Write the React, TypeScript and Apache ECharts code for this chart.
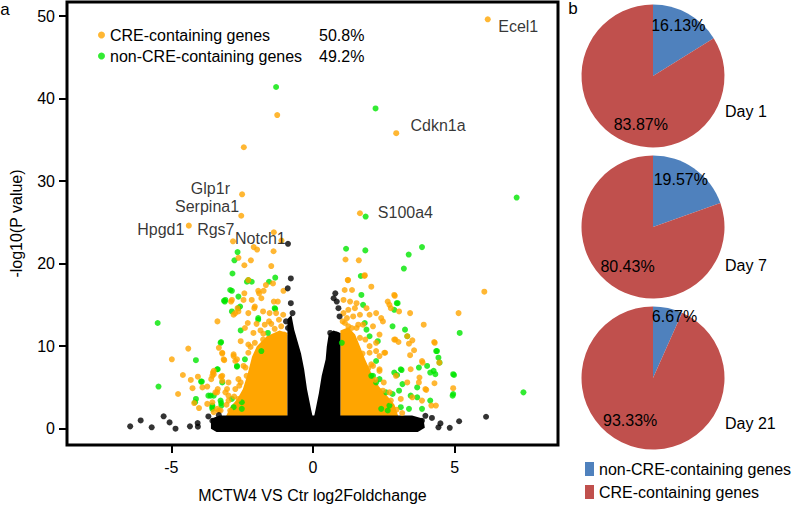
import React, { useEffect, useRef } from 'react';
import * as echarts from 'echarts';

const FONT = "'Liberation Sans', Arial, Helvetica, sans-serif";
const ORANGE = '#ffa500';
const GREEN = '#00e600';
const BLACK = '#000000';
const BLUE = '#4f81bd';
const RED = '#c0504d';

// ---- Volcano plot data: [log2FoldChange, -log10(P value)] ----
const creGenes: [number, number][] = [
  [-1.26, 38.0], [-2.44, 34.1], [-1.11, 22.8],
  [-2.09, 22.0], [-1.97, 21.7], [-1.39, 21.5], [-2.63, 20.7], [-2.42, 19.8], [-2.19, 20.4], [-1.47, 19.7],
  [-2.28, 18.0], [-1.66, 17.4], [-1.41, 17.6], [-1.04, 16.7], [-2.42, 16.4], [-1.90, 16.4], [-1.74, 16.7], [-1.93, 16.7],
  [-2.89, 15.4], [-2.16, 15.6], [-1.82, 15.8], [-1.38, 15.4], [-1.24, 15.4], [-2.45, 15.6], [-2.86, 15.6],
  [-2.66, 14.6], [-2.74, 14.0], [-2.07, 14.6], [-1.53, 14.0], [-2.28, 14.0], [-2.05, 14.8], [-1.76, 14.2], [-1.30, 14.0], [-2.63, 14.2], [-2.80, 13.8],
  [-3.37, 13.0], [-2.30, 12.8], [-2.40, 12.2], [-1.99, 12.7], [-1.70, 12.6], [-1.47, 12.7], [-1.12, 12.4], [-1.01, 11.4],
  [-4.40, 9.7], [-3.32, 9.8], [-4.98, 8.4], [-3.13, 8.3], [-2.80, 8.8], [-2.74, 8.2], [-3.20, 9.2], [-2.80, 9.0], [-2.28, 10.2],
  [-2.05, 10.4], [-2.28, 9.2], [-1.76, 10.8], [-3.20, 9.1], [-3.15, 8.4], [-2.68, 8.4],
  [-4.59, 6.5], [-4.31, 5.9], [-4.25, 4.9], [-4.06, 6.3], [-3.90, 5.0], [-3.73, 5.1], [-3.59, 6.0], [-3.50, 6.6], [-3.24, 6.3],
  [-3.20, 5.8], [-3.53, 6.8], [-2.98, 5.6], [-2.63, 6.0], [-2.34, 6.4], [-3.50, 7.0], [-3.55, 6.4], [-3.20, 6.4],
  [-4.76, 4.2], [-4.19, 3.1], [-4.02, 2.5], [-3.38, 4.4], [-3.03, 4.8], [-2.98, 4.0], [-3.38, 2.4], [-3.44, 4.4], [-3.09, 4.4],
  [-2.74, 4.8], [-3.73, 3.0], [-3.32, 2.2], [-2.98, 3.4], [-2.92, 2.2], [-2.63, 3.6], [-3.55, 3.2], [-3.50, 2.0], [-3.26, 2.2], [-3.36, 4.8],
  [-1.20, 13.2], [-1.05, 13.8], [-1.55, 13.0], [-2.10, 11.6], [-1.85, 11.9], [-2.55, 10.6], [-2.45, 7.6], [-2.60, 5.2],
  [-2.20, 9.9], [-2.38, 7.4], [-2.55, 5.6], [-2.78, 3.9], [-3.05, 2.9], [-1.75, 11.5], [-1.35, 12.1],
  [1.66, 26.1], [1.15, 20.5], [1.62, 20.4], [1.82, 18.5], [1.24, 18.0], [2.06, 17.2], [6.05, 16.6], [1.12, 16.8], [1.38, 16.8],
  [2.89, 16.1], [2.64, 15.4], [2.70, 15.0], [3.04, 14.2], [3.43, 14.0], [5.14, 14.0], [3.91, 12.6], [3.33, 11.2], [3.51, 10.7],
  [2.91, 10.8], [3.02, 10.5], [4.28, 10.5], [2.55, 9.2], [3.43, 8.9], [3.87, 8.0], [3.45, 7.2], [3.76, 6.2], [4.29, 5.5],
  [4.00, 4.7], [4.95, 4.9], [4.18, 2.8], [4.34, 2.8],
  [1.23, 18.0], [1.83, 18.6], [1.08, 15.6], [1.31, 15.4], [1.54, 15.2], [1.89, 14.6], [1.08, 14.0], [1.42, 13.6], [1.66, 13.8],
  [2.23, 14.0], [2.41, 13.4], [1.25, 12.4], [1.54, 12.2], [1.77, 12.6], [2.12, 12.4], [1.19, 11.2], [1.66, 11.0], [2.23, 10.4],
  [2.00, 9.2], [2.35, 8.8], [2.12, 7.6], [2.35, 7.2],
  [2.75, 14.6], [1.25, 14.4], [1.48, 14.6], [2.00, 13.8], [2.47, 13.0], [1.13, 12.8], [1.37, 12.2], [1.60, 12.6], [2.35, 11.4],
  [2.87, 10.8], [3.39, 10.3], [4.30, 10.4], [3.57, 9.5], [3.85, 8.2], [4.46, 8.0], [2.23, 9.4], [2.52, 9.2], [2.06, 7.8],
  [2.35, 7.0], [2.93, 6.4], [3.33, 5.6], [3.74, 5.6], [3.97, 4.8], [2.47, 4.6], [3.51, 3.8], [3.85, 3.4], [2.75, 3.4], [3.10, 3.6], [2.87, 16.2],
  [1.05, 13.0], [1.20, 13.4], [1.85, 10.8], [2.00, 10.0], [2.50, 5.6], [2.70, 4.4],
  [1.75, 9.1], [1.95, 7.3], [2.20, 5.9], [2.95, 2.3], [3.15, 1.9],
];

const nonCreGenes: [number, number][] = [
  [-1.30, 41.4], [2.21, 38.8], [7.19, 28.0], [7.43, 4.4],
  [-2.66, 21.4], [-2.77, 20.4], [-2.84, 18.8], [-1.33, 18.3], [-2.33, 17.8], [-2.86, 16.7], [-3.14, 15.5], [-2.63, 16.0],
  [-2.86, 14.2], [-1.33, 14.5], [-5.48, 12.8], [-1.93, 13.2], [-2.55, 11.9], [-3.24, 10.5], [-4.13, 8.3], [-5.45, 5.1],
  [-3.95, 5.7], [-3.36, 7.2], [-4.13, 3.6], [-3.61, 4.0], [-3.55, 2.8], [-3.23, 2.8],
  [-2.92, 16.8], [-3.09, 15.6], [-2.57, 14.8], [-2.28, 18.0], [-2.16, 17.8], [-1.55, 17.8], [-1.93, 13.4], [-1.35, 14.6],
  [-3.26, 10.4], [-1.59, 11.6], [-2.68, 7.6], [-3.38, 7.2], [-2.40, 8.4], [-1.82, 9.4], [-3.55, 2.6], [-3.26, 3.4],
  [-2.51, 3.2], [-2.80, 2.6], [-3.11, 15.4], [-2.63, 14.6], [-2.68, 7.5], [-3.92, 5.7], [-3.69, 4.0], [-3.50, 4.0],
  [-4.16, 3.2], [-3.20, 5.6], [-3.55, 2.4], [-3.24, 3.1], [-2.51, 2.4], [-2.86, 3.6],
  [1.17, 21.8], [1.85, 21.6], [3.85, 22.0], [3.38, 21.1], [3.21, 19.4], [1.69, 18.5], [1.71, 16.2], [2.96, 15.2], [2.87, 14.4],
  [2.81, 12.4], [3.25, 12.0], [5.18, 11.6], [4.35, 9.4], [4.43, 8.6], [4.47, 8.0], [3.74, 7.4], [4.03, 7.6], [3.13, 7.1],
  [4.26, 7.0], [4.32, 6.6], [4.98, 6.5], [2.97, 6.5], [4.93, 4.0],
  [1.77, 15.0], [1.02, 10.4], [1.89, 12.0], [2.00, 11.2], [2.06, 6.4], [2.23, 5.6],
  [2.99, 15.2], [3.33, 11.2], [1.83, 12.8], [2.29, 10.6], [4.38, 9.4], [2.23, 8.2], [4.14, 6.8], [3.10, 7.2], [2.87, 6.8],
  [4.95, 6.6], [2.12, 6.4], [2.35, 6.0], [3.16, 5.4], [3.68, 5.0], [4.95, 4.2], [2.58, 4.4], [2.81, 4.2], [3.04, 4.6],
  [3.45, 4.0], [3.68, 3.8], [4.14, 3.4], [2.70, 2.8], [3.10, 2.6], [3.39, 2.4], [3.85, 2.4], [2.64, 2.2], [2.41, 2.4],
];

const otherGenes: [number, number][] = [
  [-0.88, 22.4], [-0.78, 18.2], [-0.89, 17.0], [-0.78, 15.2], [-0.72, 14.0], [-0.95, 13.0], [-0.88, 12.2],
  [0.79, 16.4], [0.73, 15.8], [0.84, 15.4], [0.90, 14.6], [0.94, 13.6], [0.61, 11.6], [0.84, 11.4],
  [6.11, 1.44], [5.16, 0.9], [4.83, 0.1], [4.50, 0.64], [4.20, 1.3], [3.46, 0.44], [3.97, 1.56], [4.43, 0.16],
  [3.39, 0.76], [3.62, 0.56], [3.85, 0.96],
  [-6.45, 0.28], [-6.08, 1.0], [-5.69, 0.16], [-5.27, 1.5], [-5.06, 0.76], [-4.85, 0.0], [-4.34, 0.28], [-4.07, 0.68],
  [-4.06, 0.24], [-3.69, 1.48], [-3.55, 0.96], [-3.32, 1.64], [-3.20, 1.16], [-2.98, 0.84],
];

// Dense cores of the cloud, as outlines in data units
const creCoreLeft: [number, number][] = [
  [-0.90, 1.4], [-0.90, 11.6], [-1.18, 11.9], [-1.63, 11.2], [-1.98, 10.0], [-2.15, 8.7], [-2.29, 6.8],
  [-2.47, 4.8], [-2.67, 3.6], [-2.92, 2.6], [-3.08, 1.4],
];
const creCoreRight: [number, number][] = [
  [0.97, 1.4], [0.97, 11.9], [1.25, 12.3], [1.49, 11.4], [1.67, 9.9], [1.84, 8.4], [2.05, 6.8],
  [2.33, 5.1], [2.64, 3.9], [2.88, 2.9], [3.02, 1.4],
];
const otherCoreLeft: [number, number][] = [
  [-0.90, 1.3], [-0.90, 13.3], [-0.76, 13.8], [-0.66, 12.0], [-0.42, 9.1], [-0.31, 7.2], [-0.21, 4.8], [-0.07, 2.4], [0.0, 1.3],
];
const otherCoreRight: [number, number][] = [
  [0.03, 1.3], [0.10, 2.4], [0.21, 4.3], [0.31, 6.4], [0.45, 8.4], [0.49, 10.0], [0.56, 11.5], [0.73, 11.9], [0.97, 11.6], [0.97, 1.3],
];
const otherCoreBand: [number, number][] = [
  [-3.6, 0.0], [-3.4, -0.4], [3.7, -0.4], [3.95, 0.1], [3.9, 1.2], [3.5, 1.6], [-3.3, 1.6], [-3.6, 1.2],
];

const labeledGenes = ['Ecel1', 'Cdkn1a', 'S100a4', 'Glp1r', 'Serpina1', 'Hpgd1', 'Rgs7', 'Notch1'];
const labeledX = [6.17, 2.94, 1.86, -2.50, -2.53, -4.38, -2.82, -1.38];
const labeledY = [49.6, 35.8, 25.7, 28.4, 25.8, 24.6, 22.7, 23.8];
const labeledGroup = ['CRE', 'CRE', 'nonCRE', 'CRE', 'CRE', 'CRE', 'CRE', 'CRE'];

const legendKeys = ['CRE', 'nonCRE'];
const legendNames = ['CRE-containing genes', 'non-CRE-containing genes'];
const legendPercents = ['50.8%', '49.2%'];

const xTicks = [-5, 0, 5];
const yTicks = [0, 10, 20, 30, 40, 50];
const xName = 'MCTW4 VS Ctr log2Foldchange';
const yName = '-log10(P value)';

// ---- Pie charts ----
const pieDays = ['Day 1', 'Day 7', 'Day 21'];
const pieCategories = ['non-CRE-containing genes', 'CRE-containing genes'];
const pieNonCRE = [16.13, 19.57, 6.67];
const pieCRE = [83.87, 80.43, 93.33];

export default function App() {
  const ref = useRef<HTMLDivElement>(null);

  useEffect(() => {
    if (!ref.current) return;
    const chart = echarts.init(ref.current, undefined, { renderer: 'svg' });

    const labelOffsets: [number, number][] = [
      [30.5, 7.4], [41.8, -7.7], [39.8, -4], [-31.7, -5.3], [-34.2, -9.7], [-28, 3.4], [-17.2, -12], [-13.5, 6.7],
    ];
    const pieCenters: [number, number][] = [[653, 76], [653, 227], [653, 378]];
    const pieRadius = 71.5;
    const nonLabelPos: [number, number][] = [[678.3, 25], [680.8, 179.3], [674.5, 316.7]];
    const creLabelPos: [number, number][] = [[640.8, 124], [627.5, 266], [630.2, 420]];
    const dayLabelPos: [number, number][] = [[725, 111.7], [725, 265], [725, 423]];

    const polySeries = (name: string, polys: [number, number][][], color: string) => ({
      name,
      type: 'custom',
      silent: true,
      data: polys.map((p) => p[0]),
      renderItem: (params: any, api: any) => ({
        type: 'polygon',
        shape: { points: polys[params.dataIndex].map((pt) => api.coord(pt)) },
        style: { fill: color },
      }),
    });

    const scatter = (name: string, data: [number, number][], color: string) => ({
      name,
      type: 'scatter',
      silent: true,
      symbol: 'circle',
      symbolSize: 6,
      itemStyle: { color },
      data,
    });

    const textStyle16 = { fontSize: 16, color: '#000', fontFamily: FONT };

    const graphics: any[] = [
      { type: 'text', x: 5, y: 9.5, style: { text: 'a', font: `17px ${FONT}`, fill: '#000', textAlign: 'center', textVerticalAlign: 'middle' } },
      { type: 'text', x: 573, y: 8.5, style: { text: 'b', font: `17px ${FONT}`, fill: '#000', textAlign: 'center', textVerticalAlign: 'middle' } },
    ];
    pieDays.forEach((d, i) => {
      graphics.push(
        { type: 'text', x: nonLabelPos[i][0], y: nonLabelPos[i][1], z: 10, style: { text: `${pieNonCRE[i].toFixed(2)}%`, font: `16px ${FONT}`, fill: '#000', textAlign: 'center', textVerticalAlign: 'middle' } },
        { type: 'text', x: creLabelPos[i][0], y: creLabelPos[i][1], z: 10, style: { text: `${pieCRE[i].toFixed(2)}%`, font: `16px ${FONT}`, fill: '#000', textAlign: 'center', textVerticalAlign: 'middle' } },
        { type: 'text', x: dayLabelPos[i][0], y: dayLabelPos[i][1], z: 10, style: { text: d, font: `16px ${FONT}`, fill: '#000', textAlign: 'left', textVerticalAlign: 'middle' } },
      );
    });

    const option: any = {
      animation: false,
      backgroundColor: '#ffffff',
      textStyle: { fontFamily: FONT },
      grid: {
        left: 59, right: 242, top: 2, bottom: 58.5,
        show: true, borderColor: '#000', borderWidth: 3, backgroundColor: 'transparent',
      },
      xAxis: {
        type: 'value', min: -8.68, max: 8.65,
        axisLine: { show: false, onZero: false },
        splitLine: { show: false },
        axisTick: { show: true, customValues: xTicks, length: 8, lineStyle: { color: '#000', width: 2 } },
        axisLabel: { show: true, customValues: xTicks, margin: 14, ...textStyle16 },
        name: xName, nameLocation: 'middle', nameGap: 42, nameTextStyle: textStyle16,
      },
      yAxis: {
        type: 'value', min: -1.98, max: 51.7,
        axisLine: { show: false, onZero: false },
        splitLine: { show: false },
        axisTick: { show: true, customValues: yTicks, length: 8, lineStyle: { color: '#000', width: 2 } },
        axisLabel: { show: true, customValues: yTicks, margin: 12, ...textStyle16 },
        name: yName, nameLocation: 'middle', nameGap: 43, nameTextStyle: textStyle16,
      },
      legend: [
        {
          data: legendKeys,
          orient: 'vertical', left: 93, top: 21, itemGap: 3,
          icon: 'circle', itemWidth: 7, itemHeight: 7, selectedMode: false,
          formatter: (name: string) => {
            const i = legendKeys.indexOf(name);
            return `{n|${legendNames[i]}}{p|${legendPercents[i]}}`;
          },
          textStyle: {
            ...textStyle16, lineHeight: 18,
            rich: { n: { width: 209, fontSize: 16, fontFamily: FONT, color: '#000' }, p: { fontSize: 16, fontFamily: FONT, color: '#000' } },
          },
        },
        {
          data: pieCategories,
          orient: 'vertical', left: 585, top: 460, height: 48, itemGap: 5, padding: 0,
          icon: 'rect', itemWidth: 9, itemHeight: 14, selectedMode: false,
          textStyle: { ...textStyle16, lineHeight: 18 },
        },
      ],
      graphic: graphics,
      series: [
        polySeries('creCore', [creCoreLeft, creCoreRight], ORANGE),
        polySeries('otherCore', [otherCoreLeft, otherCoreRight, otherCoreBand], BLACK),
        scatter('nonCRE', nonCreGenes, GREEN),
        scatter('CRE', creGenes, ORANGE),
        scatter('other', otherGenes, BLACK),
        {
          name: 'labeled',
          type: 'scatter',
          silent: true,
          symbol: 'circle',
          symbolSize: 6,
          data: labeledGenes.map((g, i) => ({
            name: g,
            value: [labeledX[i], labeledY[i]],
            itemStyle: { color: labeledGroup[i] === 'CRE' ? ORANGE : GREEN },
            label: { show: true, position: 'inside', offset: labelOffsets[i], formatter: '{b}', ...textStyle16 },
          })),
        },
        ...pieDays.map((d, i) => ({
          name: d,
          type: 'pie',
          silent: true,
          center: pieCenters[i],
          radius: pieRadius,
          startAngle: 90,
          clockwise: true,
          label: { show: false },
          labelLine: { show: false },
          data: [
            { name: pieCategories[0], value: pieNonCRE[i], itemStyle: { color: BLUE } },
            { name: pieCategories[1], value: pieCRE[i], itemStyle: { color: RED } },
          ],
        })),
      ],
    };

    chart.setOption(option);
    return () => chart.dispose();
  }, []);

  return <div ref={ref} style={{ position: 'fixed', left: 0, top: 0, width: 800, height: 508 }} />;
}
